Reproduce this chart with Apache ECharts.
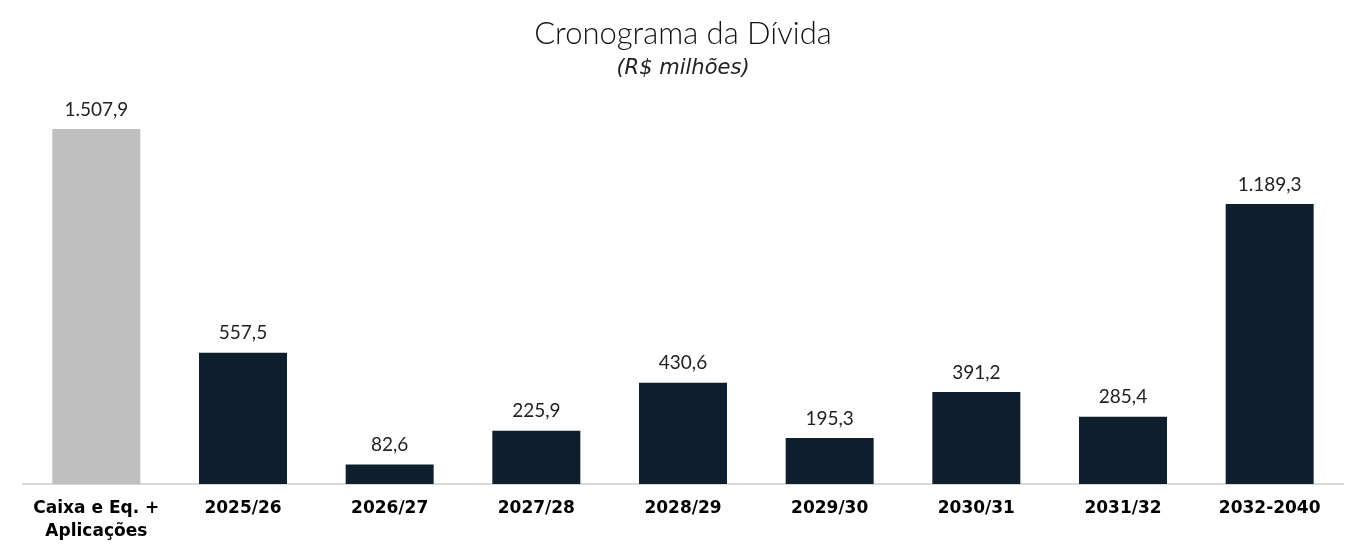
<!DOCTYPE html>
<html><head><meta charset="utf-8">
<script src="https://cdn.jsdelivr.net/npm/echarts@6/dist/echarts.min.js"></script>
<style>html,body{margin:0;padding:0;background:#fff}#c{width:1366px;height:555px}</style>
</head><body><div id="c"></div>
<script>
const categories = ['Caixa e Eq. +\nAplicações','2025/26','2026/27','2027/28','2028/29','2029/30','2030/31','2031/32','2032-2040'];
const values = [1507.9, 557.5, 82.6, 225.9, 430.6, 195.3, 391.2, 285.4, 1189.3];
const barColors = ['#bfbfbf','#0f1f2e','#0f1f2e','#0f1f2e','#0f1f2e','#0f1f2e','#0f1f2e','#0f1f2e','#0f1f2e'];

function fmt(v){
  const parts = v.toFixed(1).split('.');
  const int = parts[0].replace(/\B(?=(\d{3})+(?!\d))/g,'.');
  return int + ',' + parts[1];
}
const chart = echarts.init(document.getElementById('c'));
chart.setOption({
  animation:false,
  title:{
    text:'Cronograma da Dívida', subtext:'(R$ milhões)', left:'center', top:13,
    textStyle:{fontFamily:'Lato', fontSize:31, fontWeight:300, color:'#111'},
    subtextStyle:{fontFamily:'DejaVu Sans', fontSize:21, fontWeight:200, fontStyle:'italic', color:'#222'},
    itemGap:9
  },
  grid:{left:23, right:23, top:129, bottom:71},
  xAxis:{type:'category', data:categories,
    axisLine:{lineStyle:{color:'#d9d9d9', width:2}}, axisTick:{show:false},
    axisLabel:{fontFamily:'DejaVu Sans', fontWeight:'bold', fontSize:17, color:'#000', margin:13, lineHeight:23, interval:0}},
  yAxis:{type:'value', min:0, max:1507.9, show:false, splitLine:{show:false}},
  series:[{type:'bar', barWidth:'60%',
    data: values.map((v,i)=>({value:v, itemStyle:{color:barColors[i]}})),
    label:{show:true, position:'top', distance:10, formatter:p=>fmt(p.value), fontFamily:'Lato', fontSize:19, color:'#222'}
  }]
});
</script></body></html>
